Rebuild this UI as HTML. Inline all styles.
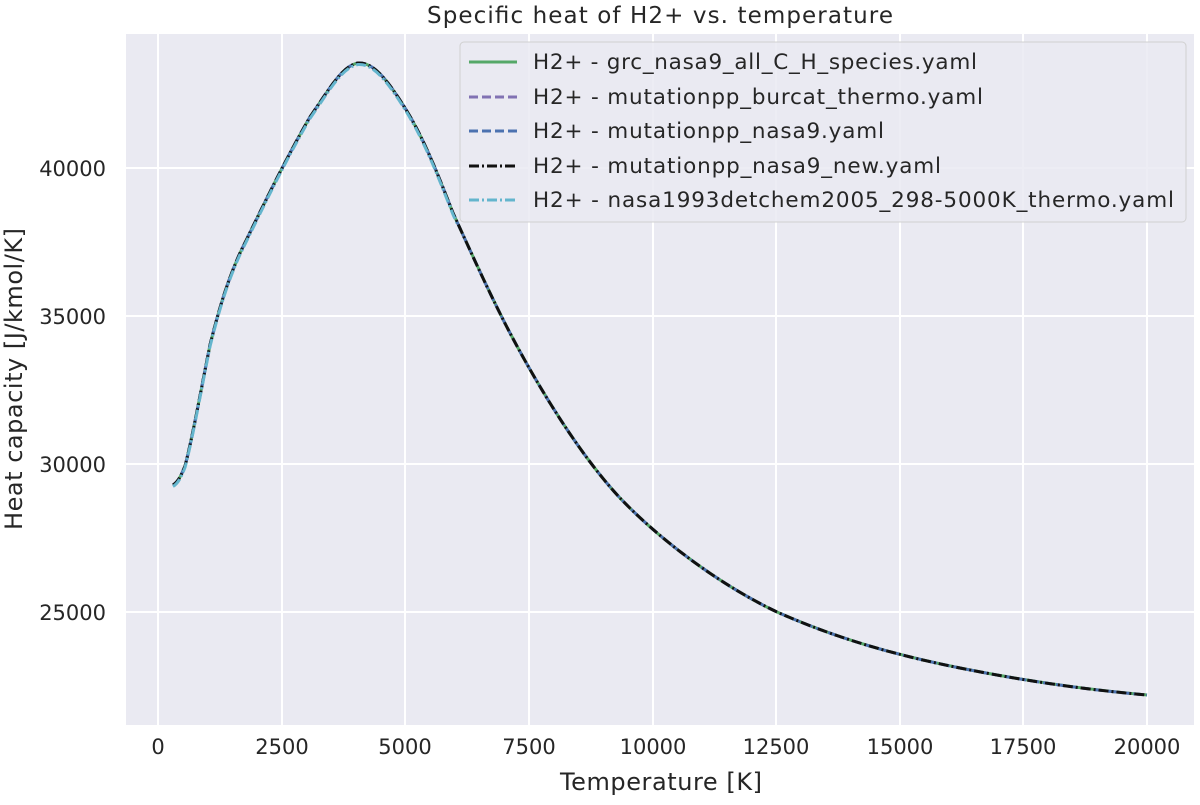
<!DOCTYPE html>
<html><head><meta charset="utf-8"><style>
body{margin:0;background:#fff}
svg{font-family:"DejaVu Sans","Liberation Sans",sans-serif;fill:#262626}
</style></head><body>
<svg width="1200" height="800" xmlns="http://www.w3.org/2000/svg">
<rect x="126" y="34" width="1068" height="691" fill="#eaeaf2"/>
<g stroke="#fff" stroke-width="2">
<line x1="158" y1="34" x2="158" y2="725"/><line x1="282" y1="34" x2="282" y2="725"/><line x1="405" y1="34" x2="405" y2="725"/><line x1="529" y1="34" x2="529" y2="725"/><line x1="653" y1="34" x2="653" y2="725"/><line x1="776" y1="34" x2="776" y2="725"/><line x1="900" y1="34" x2="900" y2="725"/><line x1="1023" y1="34" x2="1023" y2="725"/><line x1="1147" y1="34" x2="1147" y2="725"/>
<line x1="126" y1="168" x2="1194" y2="168"/><line x1="126" y1="316" x2="1194" y2="316"/><line x1="126" y1="464" x2="1194" y2="464"/><line x1="126" y1="612" x2="1194" y2="612"/>
</g>
<g font-size="21" text-anchor="middle">
<text x="158" y="754">0</text><text x="282" y="754">2500</text><text x="405" y="754">5000</text><text x="529" y="754">7500</text><text x="653" y="754">10000</text><text x="776" y="754">12500</text><text x="900" y="754">15000</text><text x="1023" y="754">17500</text><text x="1147" y="754">20000</text>
</g>
<g font-size="21" text-anchor="end">
<text x="106" y="176">40000</text><text x="106" y="324">35000</text><text x="106" y="472">30000</text><text x="106" y="620">25000</text>
</g>
<text x="661" y="790" font-size="24" text-anchor="middle" textLength="202">Temperature [K]</text>
<text transform="translate(22,379) rotate(-90)" font-size="24" text-anchor="middle" textLength="302">Heat capacity [J/kmol/K]</text>
<text x="660" y="23" font-size="23" text-anchor="middle" textLength="466">Specific heat of H2+ vs. temperature</text>
<defs>
<path id="c" fill="none" stroke-linejoin="round" d="M173,485 C178,482 181,476 185,466 C192,440 200,395 210,345 C220,305 228,280 240,253 C262,208 285,160 310,117 C330,88 342,66 358,63 C372,62 385,76 405,108 C425,140 440,180 453,213 C470,250 490,295 510,333 C540,390 580,455 620,498 C660,540 720,585 777,612 C840,640 900,656 960,668 C1030,682 1090,690 1147,695"/>
<clipPath id="k"><rect x="126" y="34" width="330" height="700"/></clipPath>
</defs>
<use href="#c" stroke="#55a868" stroke-width="3"/>
<use href="#c" stroke="#8172b3" stroke-width="3" stroke-dasharray="9,4" clip-path="url(#k)"/>
<use href="#c" stroke="#4c72b0" stroke-width="3" stroke-dasharray="9,4"/>
<use href="#c" stroke="#111" stroke-width="3" stroke-dasharray="10,3,2,3"/>
<use href="#c" stroke="#64b5cd" stroke-width="3" stroke-dasharray="10,3,2,3" clip-path="url(#k)" transform="translate(0,1.5)"/>
<rect x="460" y="42" width="726" height="180" rx="4" fill="#eaeaf2" fill-opacity="0.85" stroke="#d0d0d0"/>
<g stroke-width="3">
<line x1="469" y1="62" x2="517" y2="62" stroke="#55a868"/>
<line x1="469" y1="97" x2="517" y2="97" stroke="#8172b3" stroke-dasharray="9,4"/>
<line x1="469" y1="131" x2="517" y2="131" stroke="#4c72b0" stroke-dasharray="9,4"/>
<line x1="469" y1="166" x2="517" y2="166" stroke="#111" stroke-dasharray="10,3,2,3"/>
<line x1="469" y1="200" x2="517" y2="200" stroke="#64b5cd" stroke-dasharray="10,3,2,3"/>
</g>
<g font-size="21.5">
<text x="533" y="69" textLength="444">H2+ - grc_nasa9_all_C_H_species.yaml</text>
<text x="533" y="104" textLength="450">H2+ - mutationpp_burcat_thermo.yaml</text>
<text x="533" y="138" textLength="351">H2+ - mutationpp_nasa9.yaml</text>
<text x="533" y="173" textLength="408">H2+ - mutationpp_nasa9_new.yaml</text>
<text x="533" y="207" textLength="641">H2+ - nasa1993detchem2005_298-5000K_thermo.yaml</text>
</g>
</svg>
</body></html>
